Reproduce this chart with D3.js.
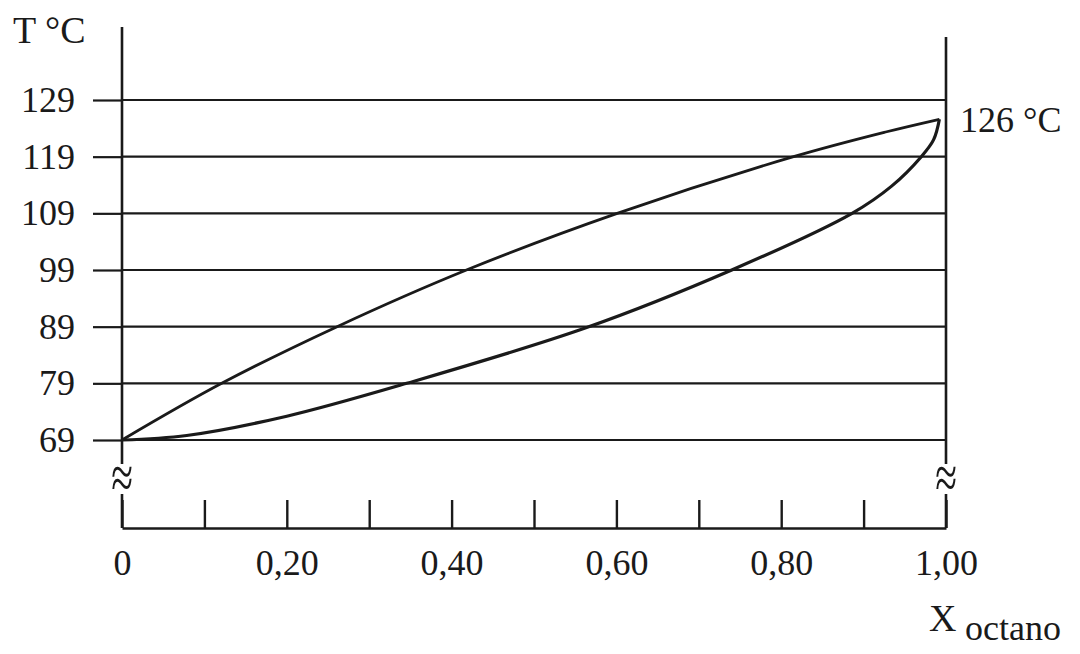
<!DOCTYPE html>
<html>
<head>
<meta charset="utf-8">
<script src="https://cdn.jsdelivr.net/npm/d3@7"></script>
<style>
  body { margin: 0; background: #fff; }
  text { font-family: "Liberation Serif", "DejaVu Serif", serif; fill: #1a1a1a; }
</style>
</head>
<body>
<svg id="grafico"></svg>
<script>
var fracaoVapor = [0, 0.121, 0.261, 0.418, 0.601, 0.815, 0.928, 0.992];
var tempVapor   = [69, 79, 89, 99, 109, 119, 123.4, 125.6];

var fracaoLiquido = [0, 0.0785, 0.2, 0.3455, 0.563, 0.740, 0.886, 0.934, 0.97, 0.985, 0.992];
var tempLiquido   = [69, 69.8, 73.2, 79, 88.8, 99, 109, 113.8, 119, 122, 125.6];

var ticksT = [69, 79, 89, 99, 109, 119, 129];
var ticksX = [0, 0.1, 0.2, 0.3, 0.4, 0.5, 0.6, 0.7, 0.8, 0.9, 1.0];
var valoresRotuloX = [0, 0.2, 0.4, 0.6, 0.8, 1.0];
var textosRotuloX = ['0', '0,20', '0,40', '0,60', '0,80', '1,00'];

var largura = 1080, altura = 654;
var cor = '#1a1a1a';

var svg = d3.select('#grafico')
            .attr('width', largura)
            .attr('height', altura);

var x = d3.scaleLinear().domain([0, 1]).range([122, 946]);
var y = d3.scaleLinear().domain([69, 129]).range([440, 100]);
var yEixoX = 528;

// linhas horizontais
svg.selectAll('.grade')
  .data(ticksT)
  .enter()
    .append('line')
    .classed('grade', true)
    .attr('x1', x(0))
    .attr('x2', x(1))
    .attr('y1', d => y(d))
    .attr('y2', d => y(d))
    .attr('stroke', cor)
    .attr('stroke-width', 2.2);

// eixo T
var eixoY = d3.axisLeft(y)
              .tickValues(ticksT)
              .tickSize(29)
              .tickPadding(18);
var gY = svg.append('g')
            .attr('id', 'eixoY')
            .attr('transform', 'translate(' + x(0) + ',0)')
            .call(eixoY);
gY.select('.domain').remove();
gY.selectAll('line').attr('stroke', cor).attr('stroke-width', 2.2);
gY.selectAll('text').style('font-size', '36px').attr('fill', cor);

// eixo X
var mapaRotulos = new Map(valoresRotuloX.map((v, i) => [v, textosRotuloX[i]]));
var eixoX = d3.axisBottom(x)
              .tickValues(ticksX)
              .tickSizeInner(-28)
              .tickSizeOuter(0)
              .tickPadding(21)
              .tickFormat(d => mapaRotulos.has(+d.toFixed(1)) ? mapaRotulos.get(+d.toFixed(1)) : '');
var gX = svg.append('g')
            .attr('id', 'eixoX')
            .attr('transform', 'translate(0,' + yEixoX + ')')
            .call(eixoX);
gX.select('.domain').attr('stroke', cor).attr('stroke-width', 2.6);
gX.selectAll('line').attr('stroke', cor).attr('stroke-width', 2.4);
gX.selectAll('text').style('font-size', '36px').attr('fill', cor);

// verticais com quebra
var verticais = [
  {x: 0, topo: 27},
  {x: 1, topo: 37}
];
verticais.forEach(function(v) {
  svg.append('line')
     .attr('x1', x(v.x)).attr('x2', x(v.x))
     .attr('y1', v.topo).attr('y2', y(69) + 24)
     .attr('stroke', cor).attr('stroke-width', 2.6);
  svg.append('line')
     .attr('x1', x(v.x)).attr('x2', x(v.x))
     .attr('y1', 494).attr('y2', yEixoX)
     .attr('stroke', cor).attr('stroke-width', 2.6);
  svg.append('text')
     .attr('transform', 'translate(' + x(v.x) + ',480) scale(1.1,1.7)')
     .attr('text-anchor', 'middle')
     .attr('dy', '0.3em')
     .style('font-size', '36px')
     .text('\u2248');
});

// curvas
var linha = d3.line()
              .x(d => x(d[0]))
              .y(d => y(d[1]))
              .curve(d3.curveCatmullRom.alpha(0.5));

svg.append('path')
   .datum(fracaoVapor.map((f, i) => [f, tempVapor[i]]))
   .attr('d', linha)
   .attr('fill', 'none')
   .attr('stroke', cor)
   .attr('stroke-width', 2.8);

svg.append('path')
   .datum(fracaoLiquido.map((f, i) => [f, tempLiquido[i]]))
   .attr('d', linha)
   .attr('fill', 'none')
   .attr('stroke', cor)
   .attr('stroke-width', 3.2);

// textos
svg.append('text')
   .attr('x', 13).attr('y', 43)
   .style('font-size', '38px')
   .text('T \u00B0C');

svg.append('text')
   .attr('x', 960).attr('y', 132)
   .style('font-size', '36px')
   .text('126 \u00B0C');

svg.append('text')
   .attr('x', 929).attr('y', 631)
   .style('font-size', '38px')
   .text('X');

svg.append('text')
   .attr('x', 965).attr('y', 640)
   .style('font-size', '36px')
   .text('octano');
</script>
</body>
</html>
